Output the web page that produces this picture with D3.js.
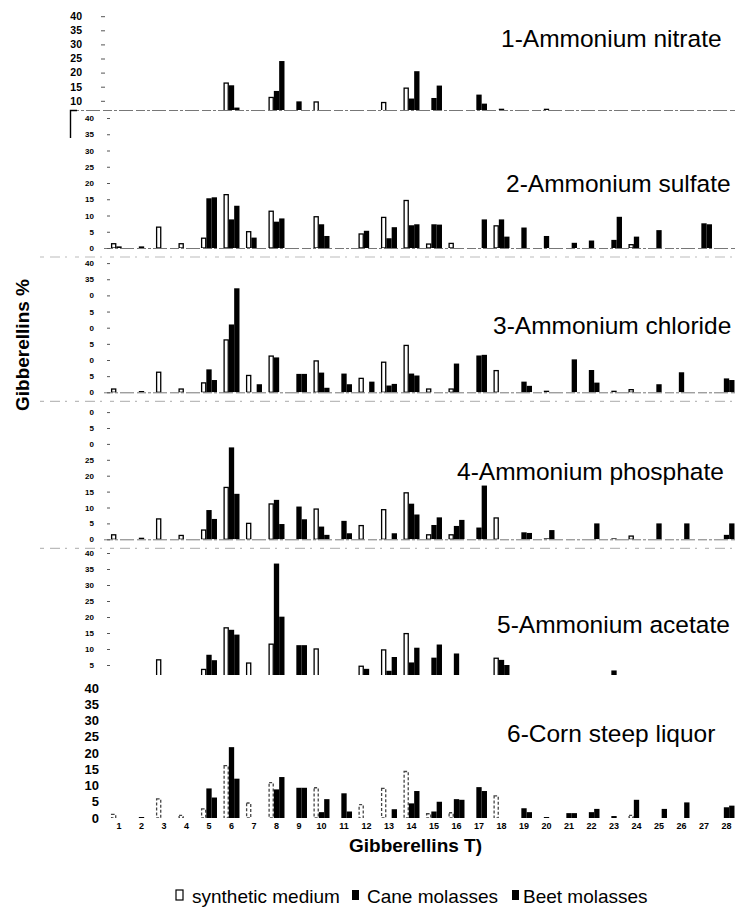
<!DOCTYPE html>
<html><head><meta charset="utf-8">
<script src="https://cdn.jsdelivr.net/npm/d3@7"></script>
<style>body{margin:0;background:#fff}svg{display:block}text{font-family:"Liberation Sans",Arial,sans-serif}</style>
</head><body><svg id="c" width="735" height="909"></svg>
<script>
// ---------- DATA ----------
const categories = ["1","2","3","4","5","6","7","8","9","10","11","12","13","14","15","16","17","18","19","20","21","22","23","24","25","26","27","28"];
const seriesNames = ["synthetic medium","Cane molasses","Beet molasses"];
const panelTitles = ["1-Ammonium nitrate","2-Ammonium sulfate","3-Ammonium chloride","4-Ammonium phosphate","5-Ammonium acetate","6-Corn steep liquor"];

const syn1  = [0,0,0,0,0,16.5,0,11.4,0,9.8,0,0,9.6,14.7,0,0,0,0,0,0,0,0,0,0,0,0,0,0];
const cane1 = [0,0,0,0,0,15.5,0,13.5,9.8,0,0,0,0,10.8,11,0,12.2,7.2,0,7.2,0,0,0,0,0,0,0,0];
const beet1 = [0,0,0,0,0,7.6,0,24.1,0,0,0,0,0,20.5,15.4,0,9,0,0,0,0,0,0,0,0,0,0,0];

const syn2  = [1.5,0,6.6,1.5,3.2,16.6,5.2,11.5,0,9.8,0,4.5,9.6,14.8,1.4,1.6,0,7,0,0,0,0,0,1.2,0,0,0,0];
const cane2 = [0.5,0.5,0,0,15.3,8.8,3.2,8.1,0,7.3,0,5.3,3,7,7.3,0,0,8.8,6.3,3.7,0,2.3,2.5,3.5,5.5,0,7.6,0];
const beet2 = [0,0,0,0,15.6,13,0,9.1,0,3.7,0,0,6.4,7.3,7.2,0,8.8,3.5,0,0,1.6,0,9.6,0,0,0,7.3,0];

const syn3  = [1.2,0,6.4,1.2,3.1,16.4,5.4,11.4,0,9.9,0,4.5,9.5,14.7,1.2,1.2,0,6.9,0,0,0,0,0,1,0,0,0,0];
const cane3 = [0,0.4,0,0,7.1,21,0,10.8,5.7,6.1,5.8,0,2.1,5.8,0,8.9,11.4,0,3.3,0.5,0,6.9,0.5,0,2.5,6.2,0,4.3];
const beet3 = [0,0,0,0,3.8,32.2,2.5,0,5.7,1.4,2.5,3.3,2.6,5.2,0,0,11.6,0,2,0,10.2,3,0,0,0,0,0,3.8];

const syn4  = [1.6,0,6.6,1.4,3.1,16.5,5.2,11.3,0,9.7,0,4.5,9.5,14.8,1.6,1.6,0,6.9,0,0,0,0,0,1.2,0,0,0,0];
const cane4 = [0,0.5,0,0,9.2,28.9,0,12.4,10.3,4,5.8,0,0,11.2,4.5,4.2,3.7,0,2.2,0.3,0,0,0.3,0,5,0,0,1.4];
const beet4 = [0,0,0,0,6.4,14.3,0,4.8,6.3,1.4,1.9,0,1.9,7.8,6.9,6.1,16.9,0,2,2.9,0,5,0,0,0,5,0,5];

const syn5  = [0,0,6.8,0,3.8,16.8,5.8,11.7,0,10.2,0,4.8,9.9,15,0,0,0,7.3,0,0,0,0,0,0,0,0,0,0];
const cane5 = [0,0,0,0,8.2,16,0,36.7,11.2,0,0,3.8,3.2,5.8,7.3,8.6,0,6.6,0,0,0,0,3.3,0,0,0,0,0];
const beet5 = [0,0,0,0,6.5,14.5,0,20.1,11.2,0,0,0,7.5,10.4,11.4,0,0,5,0,0,0,0,0,0,0,0,0,0];

const syn6  = [1.3,0,6.1,1,3,16.3,4.8,11.1,0,9.5,0,4.3,9.3,14.5,1.5,1.8,0,7,0,0,0,0,0,1,0,0,0,0];
const cane6 = [0,0.3,0,0,9.1,21.8,0,8.8,9.3,1.8,7.6,0,0,4.5,2,5.8,9.5,0,3,0.3,1.5,1.8,0.6,5.6,0,0,0,3.3];
const beet6 = [0,0,0,0,6.3,12.1,0,12.6,9.3,5.8,2,0,2.7,8.3,5,5.6,8.3,0,1.8,0,1.5,2.8,0,0,2.8,4.8,0,3.8];

const yTicks1 = [40,35,30,25,20,15,10];
const yLabels1 = ["40","35","30","25","20","15","10"];
const yTicks = [40,35,30,25,20,15,10,5,0];
const yLabels2 = ["40","35","30","25","20","15","10","5","0"];
const yLabels3 = ["40","35","0","5","0","5","0","5","0"];
const yLabels4 = ["0","5","0","25","20","15","10","5","0"];
const yTicks5 = [40,35,30,25,20,15,10,5];
const yLabels5 = ["40","35","30","25","20","15","10","5"];
const yLabels6 = ["40","35","30","25","20","15","10","5","0"];

const xTitle = "Gibberellins T)";
const yTitle = "Gibberellins %";

// ---------- LAYOUT ----------
const panels = [
  {data:[syn1,cane1,beet1], ticks:yTicks1, labels:yLabels1, y0:129, k:2.82, clip:110, line:true, rem:false, ax:105, ts:4, tp:19, fs:10.5, tx:501, ty:47},
  {data:[syn2,cane2,beet2], ticks:yTicks, labels:yLabels2, y0:248, k:3.25, clip:null, line:true, rem:true, ax:110, ts:3, tp:13, fs:8, tx:506, ty:192},
  {data:[syn3,cane3,beet3], ticks:yTicks, labels:yLabels3, y0:392.3, k:3.23, clip:null, line:true, rem:true, ax:110, ts:3, tp:13, fs:8, tx:493, ty:334},
  {data:[syn4,cane4,beet4], ticks:yTicks, labels:yLabels4, y0:539.3, k:3.18, clip:null, line:true, rem:true, ax:110, ts:3, tp:13, fs:8, tx:457, ty:480},
  {data:[syn5,cane5,beet5], ticks:yTicks5, labels:yLabels5, y0:681, k:3.2, clip:675, line:false, rem:false, ax:110, ts:3, tp:13, fs:8, tx:497, ty:633},
  {data:[syn6,cane6,beet6], ticks:yTicks, labels:yLabels6, y0:818, k:3.25, clip:null, line:false, rem:false, ax:107, ts:0, tp:8, fs:13, tx:507, ty:742, dashed:true}
];

const svg = d3.select("#c");
svg.append("rect").attr("width",735).attr("height",909).attr("fill","#fff");

const x = d3.scaleBand().domain(categories).range([107.75,737.75]).paddingInner(0.29).paddingOuter(0.145);
const xs = d3.scaleBand().domain(d3.range(3)).range([0,x.bandwidth()]);

panels.forEach((p,pi)=>{
  const y = d3.scaleLinear().domain([0,40]).range([p.y0, p.y0-40*p.k]);
  const g = svg.append("g");
  const bottom = p.clip!=null ? p.clip : p.y0;
  const cid = "clip"+pi;
  svg.append("clipPath").attr("id",cid).append("rect").attr("x",0).attr("y",0).attr("width",735).attr("height",bottom);

  if(p.line){
    g.append("line").attr("x1", pi===0?70:104).attr("x2",735).attr("y1",bottom+0.5).attr("y2",bottom+0.5)
      .attr("stroke","#777").attr("stroke-width",1).attr("stroke-dasharray","9,2,3,2,14,3");
  }
  if(p.rem){
    g.append("line").attr("x1",40).attr("x2",735).attr("y1",bottom+9).attr("y2",bottom+9)
      .attr("stroke","#bbb").attr("stroke-width",1.2).attr("stroke-dasharray","4,6,10,5,2,8");
  }

  const bars = g.append("g").attr("clip-path","url(#"+cid+")");
  p.data.forEach((arr,si)=>{
    bars.selectAll(null).data(arr.map((v,i)=>({c:categories[i],v})).filter(d=>d.v>0)).join("rect")
      .attr("x",d=>x(d.c)+xs(si)+(si===0?0.6:0))
      .attr("width",si===0?xs.bandwidth()-1.2:xs.bandwidth())
      .attr("y",d=>y(d.v)+(si===0?0.6:0))
      .attr("height",d=>Math.max(0,p.y0-y(d.v)-(si===0?0.6:0)))
      .attr("fill",si===0?"#fff":"#000")
      .attr("stroke",si===0?(p.dashed?"#444":"#000"):"none")
      .attr("stroke-width",1.3)
      .attr("stroke-dasharray",si===0&&p.dashed?"3,2":null);
  });

  const axis = d3.axisLeft(y).tickValues(p.ticks).tickFormat((d,i)=>p.labels[i]).tickSize(p.ts).tickPadding(p.tp);
  const ag = svg.append("g").attr("transform","translate("+p.ax+",0)").call(axis);
  ag.select(".domain").remove();
  ag.selectAll(".tick line").attr("stroke","#555");
  ag.selectAll("text").attr("font-size",p.fs).attr("font-weight","bold").attr("fill","#000")
    .attr("font-family","'Liberation Sans',Arial,sans-serif");

  svg.append("text").attr("x",p.tx).attr("y",p.ty).attr("font-size",24.5).attr("fill","#000").text(panelTitles[pi]);
});

svg.append("path").attr("d","M77,110.5H70.5V138").attr("fill","none").attr("stroke","#000").attr("stroke-width",1.4);

const xa = svg.append("g").attr("transform","translate(0,823)")
  .call(d3.axisBottom(x).tickSize(0).tickPadding(0));
xa.select(".domain").remove();
xa.selectAll("text").attr("font-size",9).attr("font-weight","bold").attr("fill","#000")
  .attr("font-family","'Liberation Sans',Arial,sans-serif");

svg.append("text").attr("x",349).attr("y",852).attr("font-size",19).attr("font-weight","bold").text(xTitle);
svg.append("text").attr("transform","translate(29,345) rotate(-90)").attr("text-anchor","middle")
  .attr("font-size",19).attr("font-weight","bold").text(yTitle);

const legX = [176, 352, 512];
const legTX = [192, 367, 523];
seriesNames.forEach((s,i)=>{
  svg.append("rect").attr("x",legX[i]).attr("y",890).attr("width",7).attr("height",10)
    .attr("fill",i===0?"#fff":"#000").attr("stroke",i===0?"#000":"none").attr("stroke-width",1.2);
  svg.append("text").attr("x",legTX[i]).attr("y",903).attr("font-size",19).text(s);
});
</script></body></html>
